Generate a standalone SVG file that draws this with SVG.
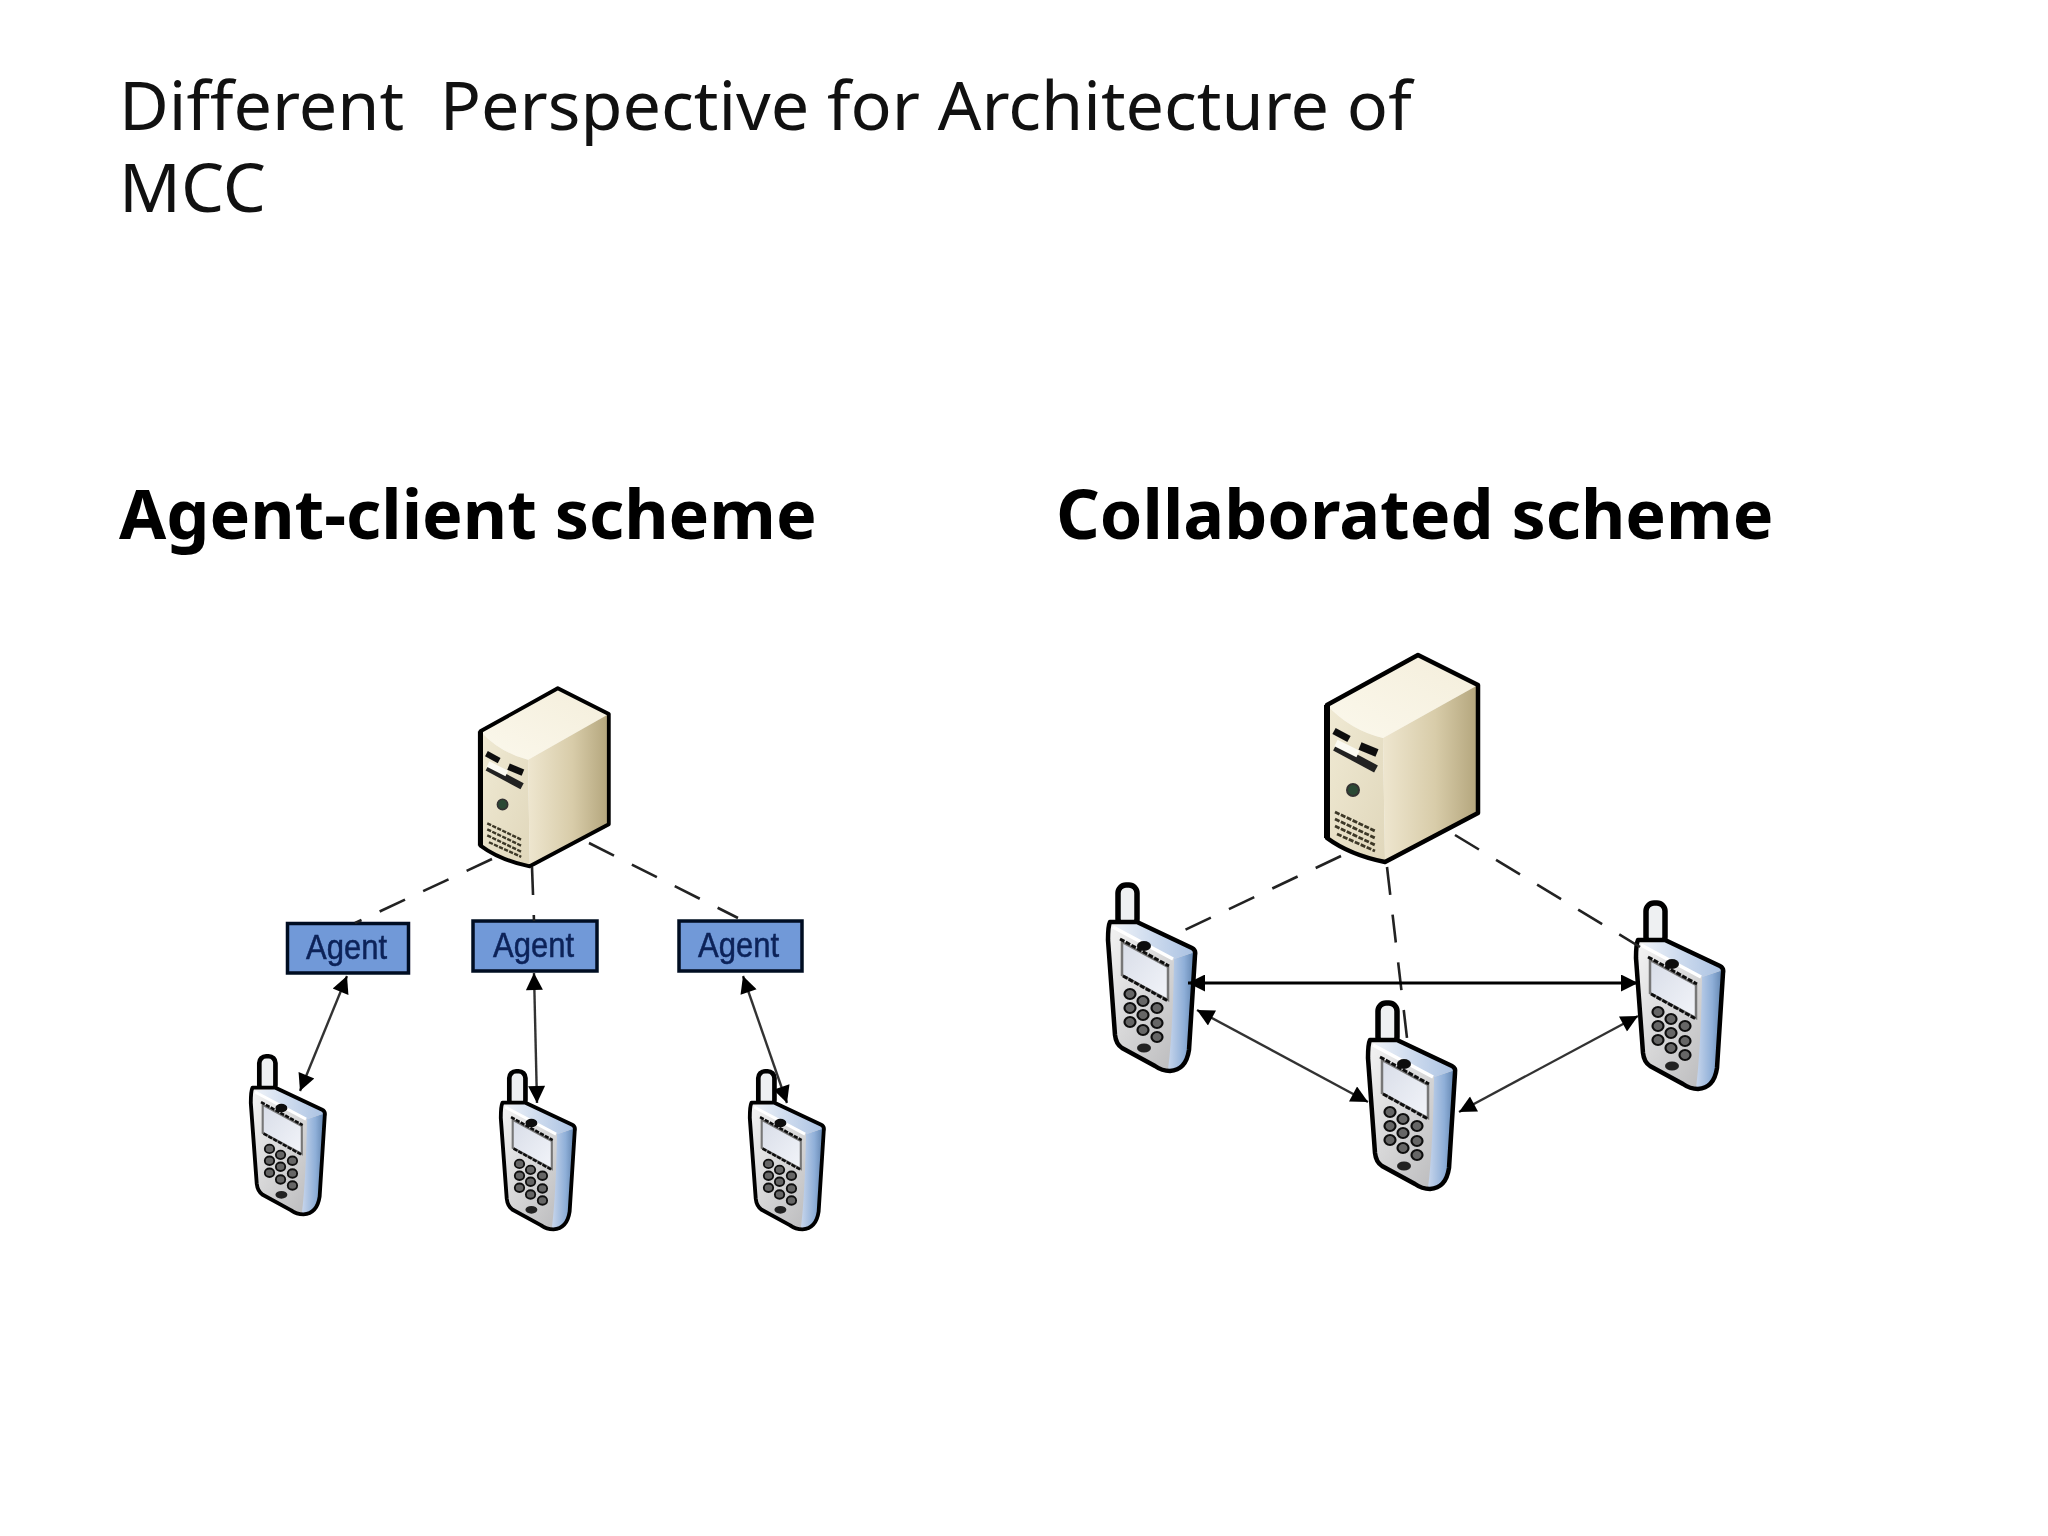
<svg xmlns="http://www.w3.org/2000/svg" width="2048" height="1536" viewBox="0 0 2048 1536">
<style>
.title{font-family:"Noto Sans","Open Sans",sans-serif;font-size:68.3px;fill:#111;white-space:pre}
.head{font-family:"Noto Sans","Open Sans",sans-serif;font-size:68.3px;font-weight:700;fill:#000}
.box{fill:#7199d8;stroke:#050a20;stroke-width:3.500}
.lbl{font-family:"Liberation Sans",Arial,sans-serif;font-size:35px;fill:#0a2158;stroke:#0a2158;stroke-width:.5}
.dash{fill:none;stroke:#222;stroke-width:2.600;stroke-dasharray:28 20}
.arr{fill:none;stroke:#333;stroke-width:2.400;marker-start:url(#ah);marker-end:url(#ah)}
.arrH{stroke:#000;stroke-width:3}
.ol{stroke:#000;stroke-width:4.500;stroke-linejoin:round;fill:none}
.key{fill:#666;stroke:#111;stroke-width:2.200}
.vent{stroke:#3c3828;stroke-width:2.800;stroke-dasharray:5 1.500;fill:none}
</style>
<defs>
<filter id="soft" x="-10%" y="-10%" width="120%" height="120%"><feGaussianBlur stdDeviation="0.75"/></filter>
<marker id="ah" viewBox="0 0 10 10" refX="10" refY="5" markerUnits="userSpaceOnUse" markerWidth="19" markerHeight="17" orient="auto-start-reverse"><path d="M0,0L10,5L0,10Z" fill="#000"/></marker>
<linearGradient id="sTop" x1="0" y1="1" x2="1" y2="0"><stop offset="0" stop-color="#fbf8ec"/><stop offset="1" stop-color="#f4eedb"/></linearGradient>
<linearGradient id="sRight" x1="0" y1="0" x2="1" y2="0"><stop offset="0" stop-color="#eee6cf"/><stop offset=".55" stop-color="#d8cca9"/><stop offset="1" stop-color="#b3a57c"/></linearGradient>
<linearGradient id="sFront" x1="0" y1="0" x2="1" y2="1"><stop offset="0" stop-color="#f0ead4"/><stop offset="1" stop-color="#e0d7bb"/></linearGradient>
<linearGradient id="pFront" x1="0" y1="0" x2="1" y2="1"><stop offset="0" stop-color="#f4f4f4"/><stop offset="1" stop-color="#b4b4b6"/></linearGradient>
<linearGradient id="pTop" x1="0" y1="0" x2="1" y2="0"><stop offset="0" stop-color="#eef2f8"/><stop offset="1" stop-color="#a9c1e2"/></linearGradient>
<linearGradient id="pSide" x1="0" y1="0" x2="1" y2="0"><stop offset="0" stop-color="#c8d6ec"/><stop offset=".6" stop-color="#8fafd8"/><stop offset="1" stop-color="#5f82ad"/></linearGradient>
<linearGradient id="pScr" x1="0" y1="0" x2="1" y2="1"><stop offset="0" stop-color="#d8dde8"/><stop offset="1" stop-color="#f2f4f9"/></linearGradient>
<g id="server">
<path d="M7,55L98,5L158,35L63,88Q30,80 7,55Z" fill="url(#sTop)"/>
<path d="M63,88L158,35V163L65,212Z" fill="url(#sRight)"/>
<path d="M7,55Q30,80 63,88L65,212Q30,205 7,188Z" fill="url(#sFront)"/>
<path d="M7,55L98,5L158,35V163L65,212Q30,205 7,188Z" class="ol"/>
<path d="M7,55V188" stroke="#000" stroke-width="6"/>
<path d="M14,81L29,89" stroke="#111" stroke-width="7"/>
<path d="M40,96L57,103" stroke="#111" stroke-width="8"/>
<path d="M15,97L56,119" stroke="#222" stroke-width="8"/>
<path d="M16,93L38,104" stroke="#fbfaf2" stroke-width="7"/>
<circle cx="33" cy="140" r="6" fill="#2c4a34" stroke="#333" stroke-width="2"/>
<path class="vent" d="M15,162L55,181M15,169L55,188M15,176L55,195M17,184L55,201"/>
</g>
<g id="phone">
<rect x="18" y="5" width="19" height="42" rx="8" fill="#eef0f2" stroke="#000" stroke-width="5.500"/>
<path d="M10,42H37L92,68Q96,70 95,75L89,170Q86,190 70,191Q62,191 55,186L22,168Q16,164 15,155L8,60Q8,46 10,42Z" fill="url(#pFront)"/>
<path d="M74,79L95,72L89,170Q86,190 68,190Q73,150 74,79Z" fill="url(#pSide)"/>
<path d="M14,46L37,43L92,68L95,72L74,79Z" fill="url(#pTop)"/>
<path d="M13,47L73,79" stroke="#fff" stroke-width="3.500"/>
<path class="ol" d="M10,42H37L92,68Q96,70 95,75L89,170Q86,190 70,191Q62,191 55,186L22,168Q16,164 15,155L8,60Q8,46 10,42Z"/>
<path d="M22,62L68,87V120L22,95Z" fill="url(#pScr)" stroke="#777" stroke-width="2.500"/>
<path d="M20,59L69,86M23,96L68,121" stroke="#111" stroke-width="3" stroke-dasharray="5 1.500"/>
<ellipse cx="44" cy="66" rx="7" ry="5" fill="#111"/>
<ellipse class="key" cx="30" cy="114" rx="5.500" ry="5"/><ellipse class="key" cx="43" cy="121" rx="5.500" ry="5"/><ellipse class="key" cx="57" cy="128" rx="5.500" ry="5"/>
<ellipse class="key" cx="30" cy="128" rx="5.500" ry="5"/><ellipse class="key" cx="43" cy="135" rx="5.500" ry="5"/><ellipse class="key" cx="57" cy="143" rx="5.500" ry="5"/>
<ellipse class="key" cx="30" cy="142" rx="5.500" ry="5"/><ellipse class="key" cx="43" cy="150" rx="5.500" ry="5"/><ellipse class="key" cx="57" cy="157" rx="5.500" ry="5"/>
<ellipse cx="44" cy="168" rx="7" ry="4.500" fill="#222"/>
</g>
</defs>
<rect width="2048" height="1536" fill="#fff"/>
<text class="title" x="119" y="130">Different  Perspective for Architecture of</text>
<text class="title" x="119" y="212">MCC</text>
<text class="head" x="119" y="539">Agent-client scheme</text>
<text class="head" x="1056" y="539">Collaborated scheme</text>
<g id="server-a" filter="url(#soft)"><use href="#server" transform="translate(474.500,684) scale(.85,.86)"/></g>
<g id="server-b" filter="url(#soft)"><use href="#server" transform="translate(1320,650)"/></g>
<g id="agent-1" filter="url(#soft)"><rect class="box" x="287.500" y="923.500" width="121" height="49.500"/><text class="lbl" x="306" y="959" textLength="81" lengthAdjust="spacingAndGlyphs">Agent</text></g>
<g id="agent-2" filter="url(#soft)"><rect class="box" x="473" y="921" width="124" height="50"/><text class="lbl" x="493" y="956.500" textLength="81" lengthAdjust="spacingAndGlyphs">Agent</text></g>
<g id="agent-3" filter="url(#soft)"><rect class="box" x="679" y="921" width="123" height="50"/><text class="lbl" x="698" y="956.500" textLength="81" lengthAdjust="spacingAndGlyphs">Agent</text></g>
<g id="phone-a1" filter="url(#soft)"><use href="#phone" transform="translate(244,1052) scale(.85)"/></g>
<g id="phone-a2" filter="url(#soft)"><use href="#phone" transform="translate(494,1067) scale(.85)"/></g>
<g id="phone-a3" filter="url(#soft)"><use href="#phone" transform="translate(743,1067) scale(.85)"/></g>
<g id="phone-b1" filter="url(#soft)"><use href="#phone" transform="translate(1100,880)"/></g>
<g id="phone-b2" filter="url(#soft)"><use href="#phone" transform="translate(1360,998)"/></g>
<g id="phone-b3" filter="url(#soft)"><use href="#phone" transform="translate(1628,898)"/></g>
<g id="connectors" filter="url(#soft)">
<path class="dash" d="M492,859L355,923"/>
<path class="dash" d="M532,867L534,921"/>
<path class="dash" d="M589,843L738,918"/>
<path class="arr" d="M347,976L300,1091"/>
<path class="arr" d="M534,973L537,1103"/>
<path class="arr" d="M743,976L787,1103"/>
<path class="dash" d="M1341,856L1172,936"/>
<path class="dash" d="M1387,867L1407,1038"/>
<path class="dash" d="M1455,835L1640,947"/>
<path class="arr arrH" d="M1188,983L1638,983"/>
<path class="arr" d="M1197,1010L1368,1102"/>
<path class="arr" d="M1638,1016L1459,1112"/>
</g>
</svg>
